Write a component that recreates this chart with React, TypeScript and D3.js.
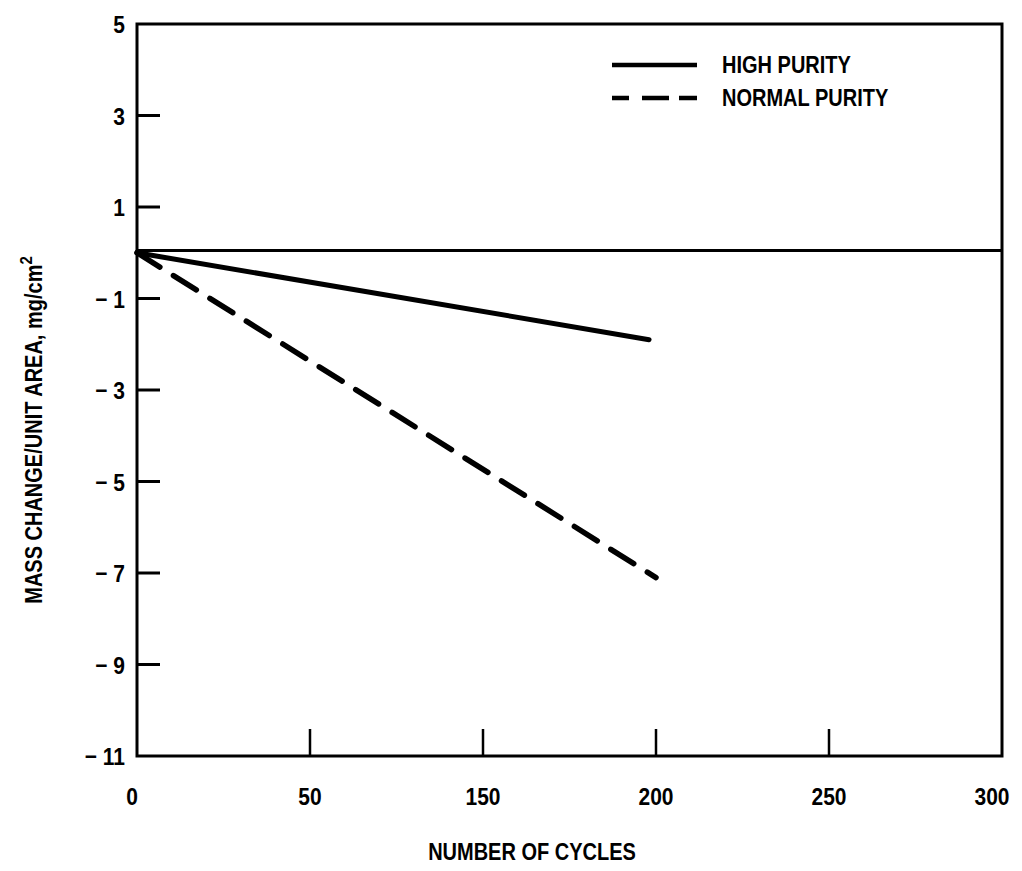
import { useEffect, useRef } from 'react';
import * as d3 from 'd3';

// tick labels as printed (the original axis skips 100)
const xTicks = [0, 50, 150, 200, 250, 300];
const yTicks = [5, 3, 1, -1, -3, -5, -7, -9, -11];

// series: [cycles, mg/cm2]
const highPurity: [number, number][] = [
  [0, 0],
  [198, -1.9],
];
const normalPurity: [number, number][] = [
  [0, 0],
  [200, -7.1],
];

const legendItems = [
  { label: 'HIGH PURITY', dash: null as string | null },
  { label: 'NORMAL PURITY', dash: '17,13,27,10,20' },
];

const W = 1022;
const H = 871;
const FONT = '"Liberation Sans", Arial, sans-serif';
const STRETCH = 'scale(1,1.15)'; // scanned type is a little tall

export default function App() {
  const svgRef = useRef<SVGSVGElement>(null);

  useEffect(() => {
    if (!svgRef.current) return;
    const svg = d3.select(svgRef.current);
    svg.selectAll('*').remove();

    const margin = { top: 24, right: 20, bottom: 115, left: 137 };
    const x0 = margin.left;
    const x1 = W - margin.right;
    const y0 = margin.top;
    const y1 = H - margin.bottom;

    // equally spaced ticks with uneven labels -> piecewise scale
    const step = (x1 - x0) / (xTicks.length - 1);
    const x = d3
      .scaleLinear()
      .domain(xTicks)
      .range(xTicks.map((_, i) => x0 + i * step));
    const y = d3.scaleLinear().domain([-11, 5]).range([y1, y0]);

    const label = (
      parent: d3.Selection<SVGGElement, unknown, null, undefined>,
      px: number,
      py: number,
      txt: string,
      anchor: string
    ) =>
      parent
        .append('text')
        .attr('transform', `translate(${px},${py}) ${STRETCH}`)
        .attr('text-anchor', anchor)
        .text(txt);

    // frame
    svg
      .append('rect')
      .attr('x', x0)
      .attr('y', y0)
      .attr('width', x1 - x0)
      .attr('height', y1 - y0)
      .attr('fill', 'none')
      .attr('stroke', '#000')
      .attr('stroke-width', 3);

    // y ticks (inward) and labels
    const yAxis = svg
      .append('g')
      .attr('font-family', FONT)
      .attr('font-size', 21)
      .attr('font-weight', 'bold');
    yTicks.forEach((t) => {
      if (t !== 5 && t !== -11) {
        yAxis
          .append('line')
          .attr('x1', x0)
          .attr('x2', x0 + 23)
          .attr('y1', y(t))
          .attr('y2', y(t))
          .attr('stroke', '#000')
          .attr('stroke-width', 3);
      }
      label(yAxis, x0 - 12, y(t) + 9, t < 0 ? `\u2212 ${Math.abs(t)}` : String(t), 'end');
    });

    // x ticks (inward) and labels
    const xAxis = svg
      .append('g')
      .attr('font-family', FONT)
      .attr('font-size', 21)
      .attr('font-weight', 'bold');
    xTicks.forEach((t, i) => {
      if (i > 0 && i < xTicks.length - 1) {
        xAxis
          .append('line')
          .attr('x1', x(t))
          .attr('x2', x(t))
          .attr('y1', y1)
          .attr('y2', y1 - 27)
          .attr('stroke', '#000')
          .attr('stroke-width', 2.5);
      }
      label(xAxis, x(t) - (i === xTicks.length - 1 ? 10 : i === 0 ? 5 : 0), 805, String(t), 'middle');
    });

    // zero reference line
    svg
      .append('line')
      .attr('x1', x0)
      .attr('x2', x1)
      .attr('y1', y(0.05))
      .attr('y2', y(0.05))
      .attr('stroke', '#000')
      .attr('stroke-width', 3);

    const line = d3
      .line<[number, number]>()
      .x((d) => x(d[0]))
      .y((d) => y(d[1]));

    svg
      .append('path')
      .datum(highPurity)
      .attr('d', line)
      .attr('fill', 'none')
      .attr('stroke', '#000')
      .attr('stroke-width', 5)
      .attr('stroke-linecap', 'round');

    svg
      .append('path')
      .datum(normalPurity)
      .attr('d', line)
      .attr('fill', 'none')
      .attr('stroke', '#000')
      .attr('stroke-width', 5.5)
      .attr('stroke-dasharray', '27,16')
      .attr('stroke-linecap', 'round');

    // legend
    const legend = svg
      .append('g')
      .attr('font-family', FONT)
      .attr('font-size', 20)
      .attr('font-weight', 'bold');
    legendItems.forEach((item, i) => {
      const ly = 65 + i * 33;
      legend
        .append('line')
        .attr('x1', 612)
        .attr('x2', 697)
        .attr('y1', ly)
        .attr('y2', ly)
        .attr('stroke', '#000')
        .attr('stroke-width', 4.5)
        .attr('stroke-dasharray', item.dash ?? null);
      label(legend, 722, ly + 8, item.label, 'start');
    });

    // axis titles
    const titles = svg
      .append('g')
      .attr('font-family', FONT)
      .attr('font-size', 20)
      .attr('font-weight', 'bold');
    label(titles, 532, 860, 'NUMBER OF CYCLES', 'middle');

    const yt = titles
      .append('text')
      .attr('transform', `translate(42,430) rotate(-90) ${STRETCH}`)
      .attr('text-anchor', 'middle');
    yt.append('tspan').text('MASS CHANGE/UNIT AREA, mg/cm');
    yt.append('tspan').attr('font-size', 15).attr('dy', -9).text('2');
  }, []);

  return (
    <svg
      ref={svgRef}
      width={W}
      height={H}
      style={{ position: 'absolute', left: 0, top: 0, background: '#fff' }}
    />
  );
}
